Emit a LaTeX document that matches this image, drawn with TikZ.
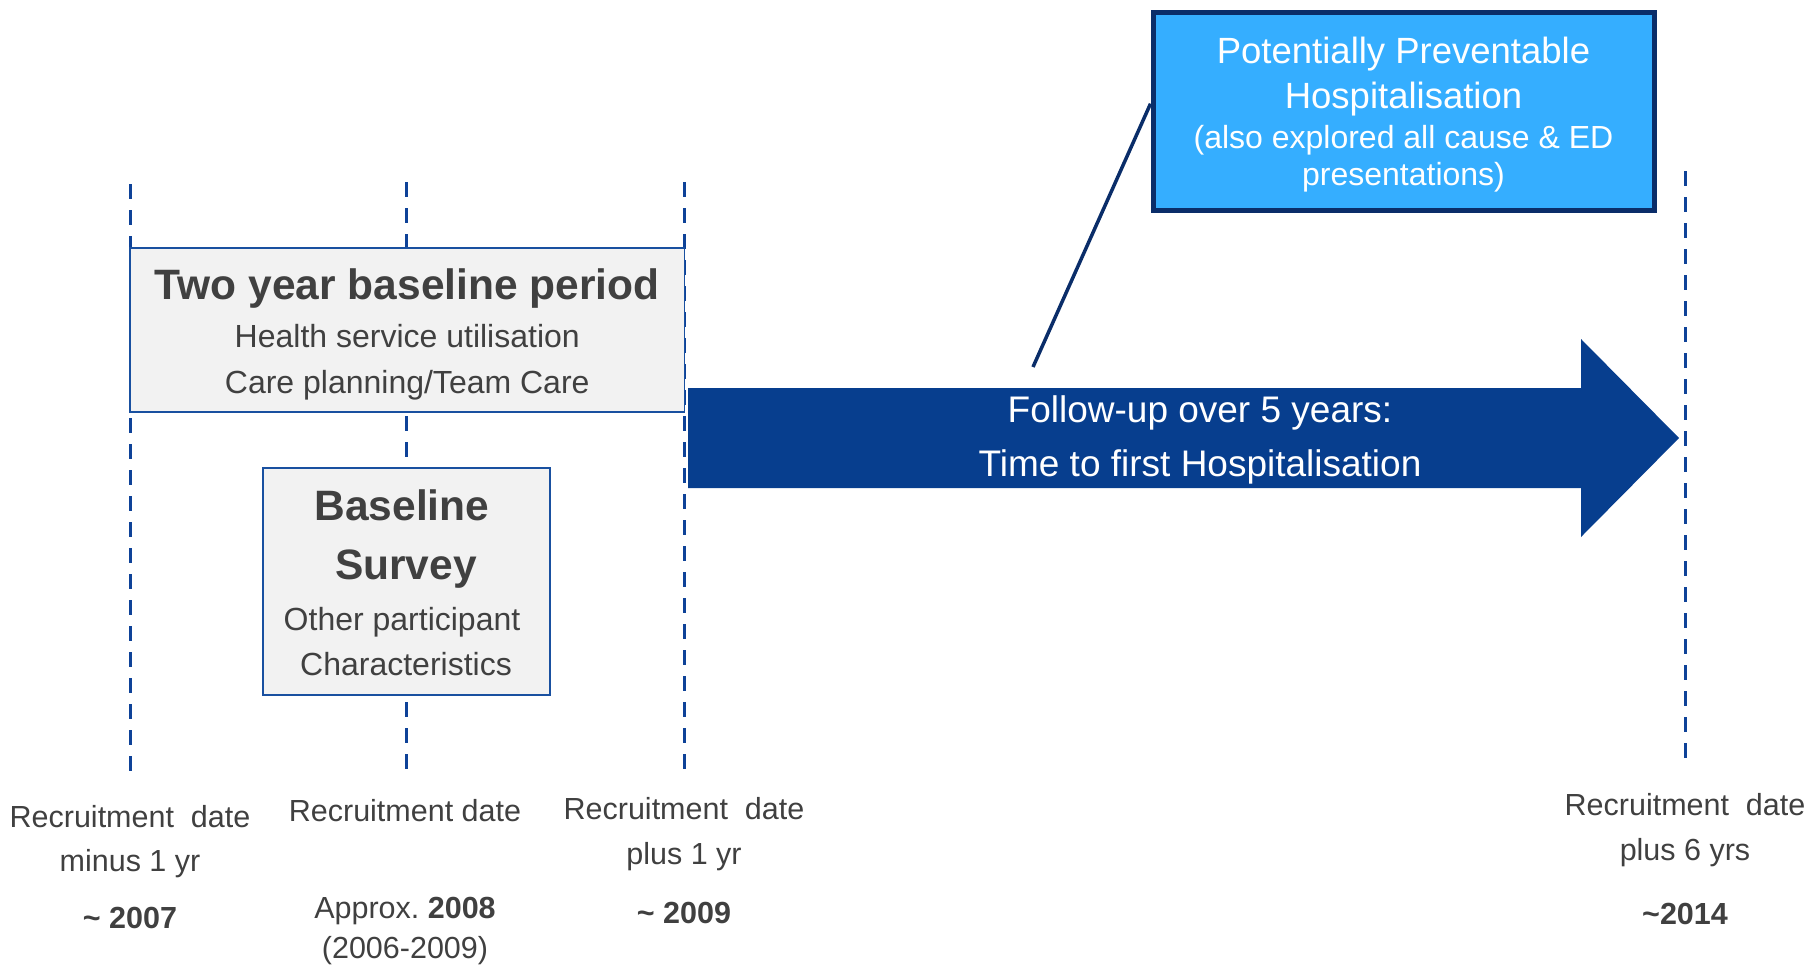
\documentclass[tikz,border=0pt]{standalone}
\usepackage{fontspec}
\setmainfont{Liberation Sans}
\definecolor{dashblue}{RGB}{14,66,152}
\definecolor{boxedge}{RGB}{25,80,160}
\definecolor{boxfill}{RGB}{242,242,242}
\definecolor{txtgray}{RGB}{64,64,64}
\definecolor{arrowblue}{RGB}{7,62,142}
\definecolor{skyfill}{RGB}{53,174,255}
\definecolor{navyedge}{RGB}{10,45,105}
\newcommand\myftitle{\fontsize{42.5}{50}\selectfont\bfseries}
\newcommand\myfbody{\fontsize{32}{38}\selectfont}
\newcommand\myfarrow{\fontsize{37}{44}\selectfont}
\newcommand\myfpph{\fontsize{36.5}{44}\selectfont}
\newcommand\myflabel{\fontsize{30.5}{36}\selectfont}
\begin{document}
\begin{tikzpicture}[x=1pt,y=-1pt,
  timeline/.style={draw=dashblue,line width=3pt,dash pattern=on 15pt off 11pt},
  graybox/.style={draw=boxedge,line width=1.8pt,fill=boxfill,inner sep=0pt},
  txt/.style={text=txtgray,anchor=base,inner sep=0pt},
  wtxt/.style={text=white,anchor=base,inner sep=0pt},
  pphbox/.style={draw=navyedge,line width=5pt,fill=skyfill,inner sep=0pt},
  callout/.style={draw=navyedge,line width=3.5pt},
  followarrow/.style={fill=arrowblue,draw=none}
]
\useasboundingbox (0,0) rectangle (1810,967);

% dashed time lines
\coordinate (l1top) at (130,184);   \coordinate (l1bot) at (130,778);
\coordinate (l2top) at (406,182);   \coordinate (l2bot) at (406,776);
\coordinate (l3top) at (684.5,182); \coordinate (l3bot) at (684.5,776);
\coordinate (l4top) at (1685,171);  \coordinate (l4bot) at (1685,762);
\draw[timeline] (l1top) -- (l1bot);
\draw[timeline] (l2top) -- (l2bot);
\draw[timeline] (l3top) -- (l3bot);
\draw[timeline] (l4top) -- (l4bot);

% two year baseline box
\node[graybox,minimum width=554.5pt,minimum height=164pt] (twoyear) at (407.25,330) {};
\node[txt,font=\myftitle] (twoyeartitle) at (407.25,299) {Two year baseline period};
\node[txt,font=\myfbody] (twoyearl1) at (407.25,347.5) {Health service utilisation};
\node[txt,font=\myfbody] (twoyearl2) at (407.25,393) {Care planning/Team Care};

% baseline survey box
\node[graybox,minimum width=287pt,minimum height=227pt] (survey) at (406.5,581.5) {};
\node[txt,font=\myftitle] (surveyt1) at (402,520) {Baseline};
\node[txt,font=\myftitle] (surveyt2) at (406,579) {Survey};
\node[txt,font=\myfbody] (surveyl1) at (402,630) {Other participant};
\node[txt,font=\myfbody] (surveyl2) at (406,675) {Characteristics};

% follow-up arrow
\path[followarrow] (688,388) -- (1581,388) -- (1581,339) -- (1679,438)
   -- (1581,537) -- (1581,488) -- (688,488) -- cycle;
\node[wtxt,font=\myfarrow] (follow1) at (1200,422.5) {Follow-up over 5 years:};
\node[wtxt,font=\myfarrow] (follow2) at (1200,476.5) {Time to first Hospitalisation};

% potentially preventable hospitalisation box
\node[pphbox,minimum width=501pt,minimum height=198pt] (pph) at (1403.5,111.7) {};
\coordinate (calloutend) at (1033,367);
\draw[callout] ([yshift=8pt]pph.west) -- (calloutend);
\node[pphbox,minimum width=501pt,minimum height=198pt] (pphtop) at (1403.5,111.7) {};
\node[wtxt,font=\myfpph] (pph1) at (1403.5,63) {Potentially Preventable};
\node[wtxt,font=\myfpph] (pph2) at (1403.5,108) {Hospitalisation};
\node[wtxt,font=\myfbody] (pph3) at (1403.5,148) {(also explored all cause \& ED};
\node[wtxt,font=\myfbody] (pph4) at (1403.5,185) {presentations)};

% bottom labels
\node[txt,font=\myflabel] (c1a) at (130,827) {Recruitment\ \ date};
\node[txt,font=\myflabel] (c1b) at (130,871) {minus 1 yr};
\node[txt,font=\myflabel\bfseries] (c1c) at (130,928) {\textasciitilde\ 2007};

\node[txt,font=\myflabel] (c2a) at (405,821) {Recruitment date};
\node[txt,font=\myflabel] (c2b) at (405,918) {Approx.\ \textbf{2008}};
\node[txt,font=\myflabel] (c2c) at (405,958) {(2006-2009)};

\node[txt,font=\myflabel] (c3a) at (684,819) {Recruitment\ \ date};
\node[txt,font=\myflabel] (c3b) at (684,864) {plus 1 yr};
\node[txt,font=\myflabel\bfseries] (c3c) at (684,923) {\textasciitilde\ 2009};

\node[txt,font=\myflabel] (c4a) at (1685,815) {Recruitment\ \ date};
\node[txt,font=\myflabel] (c4b) at (1685,860) {plus 6 yrs};
\node[txt,font=\myflabel\bfseries] (c4c) at (1685,924) {\textasciitilde2014};
\end{tikzpicture}
\end{document}
